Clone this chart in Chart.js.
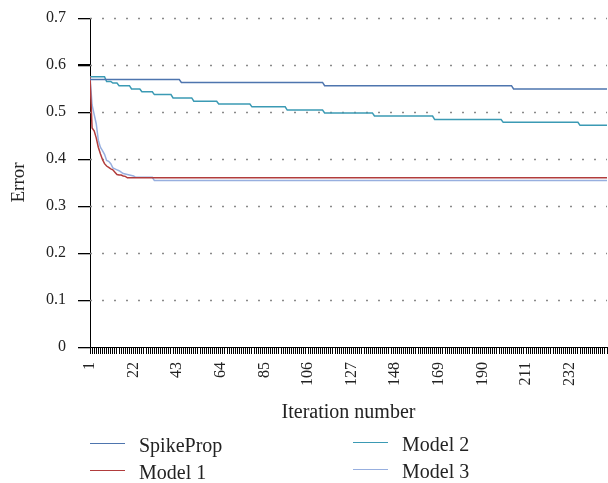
<!DOCTYPE html>
<html>
<head>
<meta charset="utf-8">
<script src="https://cdn.jsdelivr.net/npm/chart.js@4.4.1/dist/chart.umd.min.js"></script>
<style>
  html, body { margin: 0; padding: 0; background: #fff; }
  #wrap { position: relative; width: 608px; height: 483px; }
  .leg { position: absolute; font: 20px 'Liberation Serif', serif; color: #222; line-height: 22px; white-space: nowrap; }
  .leg i { position: absolute; left: 0; top: 10px; width: 35px; height: 0; border-top: 1.5px solid; }
  .leg span { position: absolute; left: 49px; top: 1px; }
</style>
</head>
<body>
<div id="wrap">
  <canvas id="chart" width="608" height="483"></canvas>
  <div id="legend"></div>
</div>
<script>
// iteration labels shown under the axis
const xTickLabels = [1, 22, 43, 64, 85, 106, 127, 148, 169, 190, 211, 232];

// each series: iterations where the error changes, and the error there
const spikePropIter = [1, 44, 45, 113, 114, 204, 205, 250];
const spikePropErr  = [0.569, 0.569, 0.563, 0.563, 0.556, 0.556, 0.549, 0.549];

const model1Iter = [1, 2, 3, 4, 5, 6, 7, 8, 9, 10, 11, 12, 13, 14, 15, 16, 17, 18, 19, 250];
const model1Err  = [0.575, 0.466, 0.460, 0.445, 0.425, 0.411, 0.399, 0.390, 0.385, 0.382,
                    0.379, 0.377, 0.372, 0.367, 0.366, 0.366, 0.364, 0.363, 0.360, 0.360];

const model2Iter = [1, 8, 9, 11, 12, 14, 15, 20, 21, 25, 26, 31, 32, 40, 41, 50, 51, 62, 63, 78,
                    79, 95, 96, 113, 114, 137, 138, 166, 167, 199, 200, 236, 237, 250];
const model2Err  = [0.575, 0.575, 0.565, 0.565, 0.5615, 0.5615, 0.556, 0.556, 0.549, 0.549,
                    0.543, 0.543, 0.537, 0.537, 0.530, 0.530, 0.523, 0.523, 0.517, 0.517,
                    0.511, 0.511, 0.504, 0.504, 0.498, 0.498, 0.4915, 0.4915, 0.484, 0.484,
                    0.478, 0.478, 0.4716, 0.4716];

const model3Iter = [1, 2, 3, 4, 5, 6, 7, 8, 9, 10, 11, 12, 13, 14, 15, 16, 17, 18, 19, 20,
                    21, 22, 23, 31, 32, 250];
const model3Err  = [0.575, 0.515, 0.495, 0.475, 0.440, 0.425, 0.418, 0.410, 0.397, 0.395,
                    0.390, 0.381, 0.379, 0.377, 0.375, 0.372, 0.369, 0.368, 0.367, 0.366,
                    0.365, 0.364, 0.361, 0.361, 0.354, 0.354];

const toPoints = (xs, ys) => xs.map((x, i) => ({ x, y: ys[i] }));

const serif = "'Liberation Serif', 'Times New Roman', serif";

const series = [
  { label: 'SpikeProp', data: toPoints(spikePropIter, spikePropErr), borderColor: '#4e75ae' },
  { label: 'Model 1',   data: toPoints(model1Iter, model1Err),       borderColor: '#b13c3c' },
  { label: 'Model 2',   data: toPoints(model2Iter, model2Err),       borderColor: '#3b9ab4' },
  { label: 'Model 3',   data: toPoints(model3Iter, model3Err),       borderColor: '#97afdf' },
];

// dotted horizontal grid at each y tick, and outward tick marks on the y axis
const yGrid = {
  id: 'yGrid',
  beforeDatasetsDraw(chart) {
    const { ctx, chartArea, scales: { y } } = chart;
    ctx.save();
    ctx.setLineDash([2, 10]);
    ctx.strokeStyle = '#8a8a8a';
    ctx.lineWidth = 1.5;
    y.ticks.forEach(t => {
      if (t.value === 0) return;
      const py = Math.round(y.getPixelForValue(t.value)) + 0.5;
      ctx.beginPath();
      ctx.moveTo(chartArea.left, py);
      ctx.lineTo(chartArea.right, py);
      ctx.stroke();
    });
    ctx.restore();
  },
  afterDraw(chart) {
    const { ctx, scales: { y } } = chart;
    const ax = Math.round(y.right);
    ctx.save();
    ctx.fillStyle = '#000';
    y.ticks.forEach(t => {
      const py = Math.round(y.getPixelForValue(t.value));
      ctx.fillRect(ax - 12, py, 12, 1.3);
    });
    ctx.restore();
  }
};

const chart = new Chart(document.getElementById('chart'), {
  type: 'line',
  data: {
    datasets: series.map(s => ({
      ...s,
      borderWidth: 1.5,
      pointRadius: 0,
      tension: 0,
      fill: false,
    }))
  },
  options: {
    responsive: false,
    animation: false,
    layout: { padding: { top: 18, right: 1, bottom: 58, left: 0 } },
    plugins: { legend: { display: false }, tooltip: { enabled: false } },
    scales: {
      x: {
        type: 'linear',
        min: 1, max: 250,
        afterFit: s => { s.height = 78; s.paddingLeft = 0; s.paddingRight = 0; },
        border: { color: '#000', width: 1 },
        grid: { drawOnChartArea: false, drawTicks: true, tickLength: 7, tickColor: '#000', tickWidth: 1 },
        ticks: {
          stepSize: 1,
          autoSkip: false,
          maxRotation: 90, minRotation: 90,
          padding: 8,
          color: '#222',
          font: { family: serif, size: 16 },
          callback: v => xTickLabels.includes(v) ? String(v) : ''
        },
        title: {
          display: true, text: 'Iteration number', color: '#222',
          font: { family: serif, size: 20 },
          padding: { top: 0, bottom: 0 }
        }
      },
      y: {
        min: 0, max: 0.7,
        afterFit: s => { s.width = 90; s.paddingTop = 0; s.paddingBottom = 0; },
        border: { color: '#000', width: 1 },
        grid: { drawOnChartArea: false, drawTicks: true, tickLength: 12, tickColor: '#000', tickWidth: 1 },
        ticks: {
          stepSize: 0.1,
          padding: 12,
          color: '#222',
          font: { family: serif, size: 16 }
        },
        title: {
          display: true, text: 'Error', color: '#222',
          font: { family: serif, size: 19 },
          padding: { top: 8, bottom: 0 }
        }
      }
    }
  },
  plugins: [yGrid]
});

// legend in two columns under the axis title
const legendSlots = {
  'SpikeProp': { left: 90,  top: 433 },
  'Model 1':   { left: 90,  top: 460 },
  'Model 2':   { left: 353, top: 432 },
  'Model 3':   { left: 353, top: 459 },
};
const legendEl = document.getElementById('legend');
chart.data.datasets.forEach(ds => {
  const pos = legendSlots[ds.label];
  const item = document.createElement('div');
  item.className = 'leg';
  item.style.left = pos.left + 'px';
  item.style.top = pos.top + 'px';
  item.innerHTML = `<i style="border-color:${ds.borderColor}"></i><span>${ds.label}</span>`;
  legendEl.appendChild(item);
});
</script>
</body>
</html>
